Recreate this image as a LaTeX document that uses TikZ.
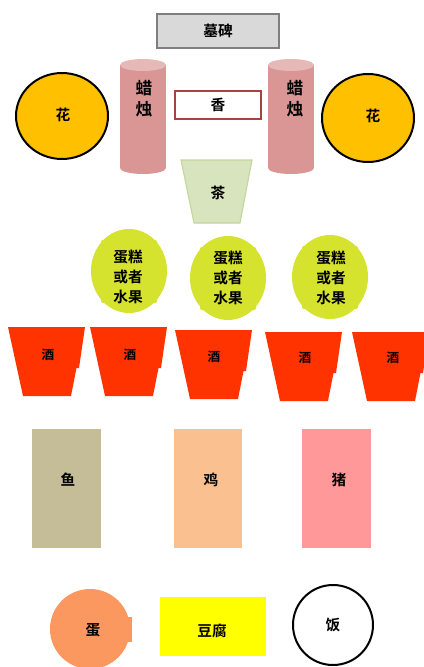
\documentclass[tikz,border=0pt]{standalone}
\usepackage{fontspec}
\setmainfont{Noto Sans CJK SC}[BoldFont={* Bold}]
\definecolor{tombfill}{HTML}{D9D9D9}
\definecolor{tombline}{HTML}{7F7F7F}
\definecolor{flowerfill}{HTML}{FFC000}
\definecolor{candlefill}{HTML}{D99694}
\definecolor{candletop}{HTML}{E6B9B8}
\definecolor{incenseline}{HTML}{A5433F}
\definecolor{teafill}{HTML}{D7E4BD}
\definecolor{tealine}{HTML}{C3D69B}
\definecolor{cakefill}{HTML}{D5E22E}
\definecolor{winefill}{HTML}{FF3300}
\definecolor{fishfill}{HTML}{C4BD97}
\definecolor{chickenfill}{HTML}{FAC090}
\definecolor{porkfill}{HTML}{FF9999}
\definecolor{eggfill}{HTML}{FB9860}
\definecolor{tofufill}{HTML}{FFFF00}
\tikzset{
  lbl/.style={font=\bfseries\fontsize{11}{15}\selectfont, inner sep=0pt, align=center},
  biglbl/.style={font=\bfseries\fontsize{12.5}{16}\selectfont, inner sep=0pt, align=center},
  smalllbl/.style={font=\bfseries\fontsize{9.5}{12}\selectfont, inner sep=0pt, align=center},
  flower/.style={fill=flowerfill, draw=black, line width=1.5pt},
  cake/.style={fill=cakefill},
  wine/.style={fill=winefill},
}
\newcommand{\cakeshape}[2]{%
  \fill[cake] (#1,#2) ellipse [x radius=38, y radius=42];
  \fill[cake, rounded corners=1.5] (#1-28,#2-31) rectangle (#1+28,#2+32);
}
\newcommand{\wineshape}[2]{% left x, top y
  \fill[wine] (#1,#2) -- (#1+77,#2) -- (#1+71,#2+41) -- (#1+68.5,#2+41) -- (#1+63,#2+69) -- (#1+15,#2+69) -- cycle;
}
\begin{document}
\begin{tikzpicture}[x=0.75pt,y=-0.75pt]
\path[use as bounding box, fill=white] (0,0) rectangle (424,667);

% tombstone
\draw[fill=tombfill, draw=tombline, line width=0.8pt] (157,14) rectangle (279,48);
\node[lbl] (tomb) at (218,31) {墓碑};

% flowers
\draw[flower] (62,116) ellipse [x radius=46, y radius=43];
\node[lbl] (flowerL) at (63,115) {花};
\draw[flower] (368,118) ellipse [x radius=46, y radius=44];
\node[lbl] (flowerR) at (373,116) {花};

% candles
\foreach \cx in {143,291}{
  \fill[candlefill] (\cx-23,65) rectangle (\cx+23,168);
  \fill[candlefill] (\cx,168) ellipse [x radius=23, y radius=6];
  \fill[candletop] (\cx,65) ellipse [x radius=23, y radius=6];
}
\node[biglbl] (candleL) at (144,99) {蜡\\烛};
\node[biglbl] (candleR) at (295,99) {蜡\\烛};

% incense
\draw[fill=white, draw=incenseline, line width=1.4pt] (175,91) rectangle (261,119);
\node[lbl] (incense) at (218,105) {香};

% tea
\draw[fill=teafill, draw=tealine, line width=0.8pt] (181,160) -- (252,160) -- (240,223) -- (194,223) -- cycle;
\node[lbl] (tea) at (218,193) {茶};

% cakes or fruit
\cakeshape{129}{271}
\cakeshape{228}{278}
\cakeshape{330}{277}
\node[lbl] (cake1) at (128,277) {蛋糕\\或者\\水果};
\node[lbl] (cake2) at (228,278) {蛋糕\\或者\\水果};
\node[lbl] (cake3) at (331,278) {蛋糕\\或者\\水果};

% wine cups
\wineshape{8}{327}
\wineshape{90}{327}
\wineshape{175}{330}
\wineshape{265}{332}
\wineshape{352}{332}
\node[smalllbl] (wine1) at (48,355) {酒};
\node[smalllbl] (wine2) at (130,355) {酒};
\node[smalllbl] (wine3) at (214,357) {酒};
\node[smalllbl] (wine4) at (305,358) {酒};
\node[smalllbl] (wine5) at (393,358) {酒};

% meats
\fill[fishfill] (32,429) rectangle (101,548);
\node[lbl] (fish) at (68,480) {鱼};
\fill[chickenfill] (174,429) rectangle (242,548);
\node[lbl] (chicken) at (211,480) {鸡};
\fill[porkfill] (302,429) rectangle (371,548);
\node[lbl] (pork) at (339,480) {猪};

% egg, tofu, rice
\fill[eggfill] (90,629) circle [radius=40];
\fill[eggfill] (120,617) rectangle (131.5,642);
\node[lbl] (egg) at (93,630) {蛋};
\fill[tofufill] (160,597) rectangle (266,656);
\node[lbl] (tofu) at (212,631) {豆腐};
\draw[fill=white, draw=black, line width=1.5pt] (333,625) circle [radius=40];
\node[lbl] (rice) at (333,625) {饭};
\end{tikzpicture}
\end{document}
